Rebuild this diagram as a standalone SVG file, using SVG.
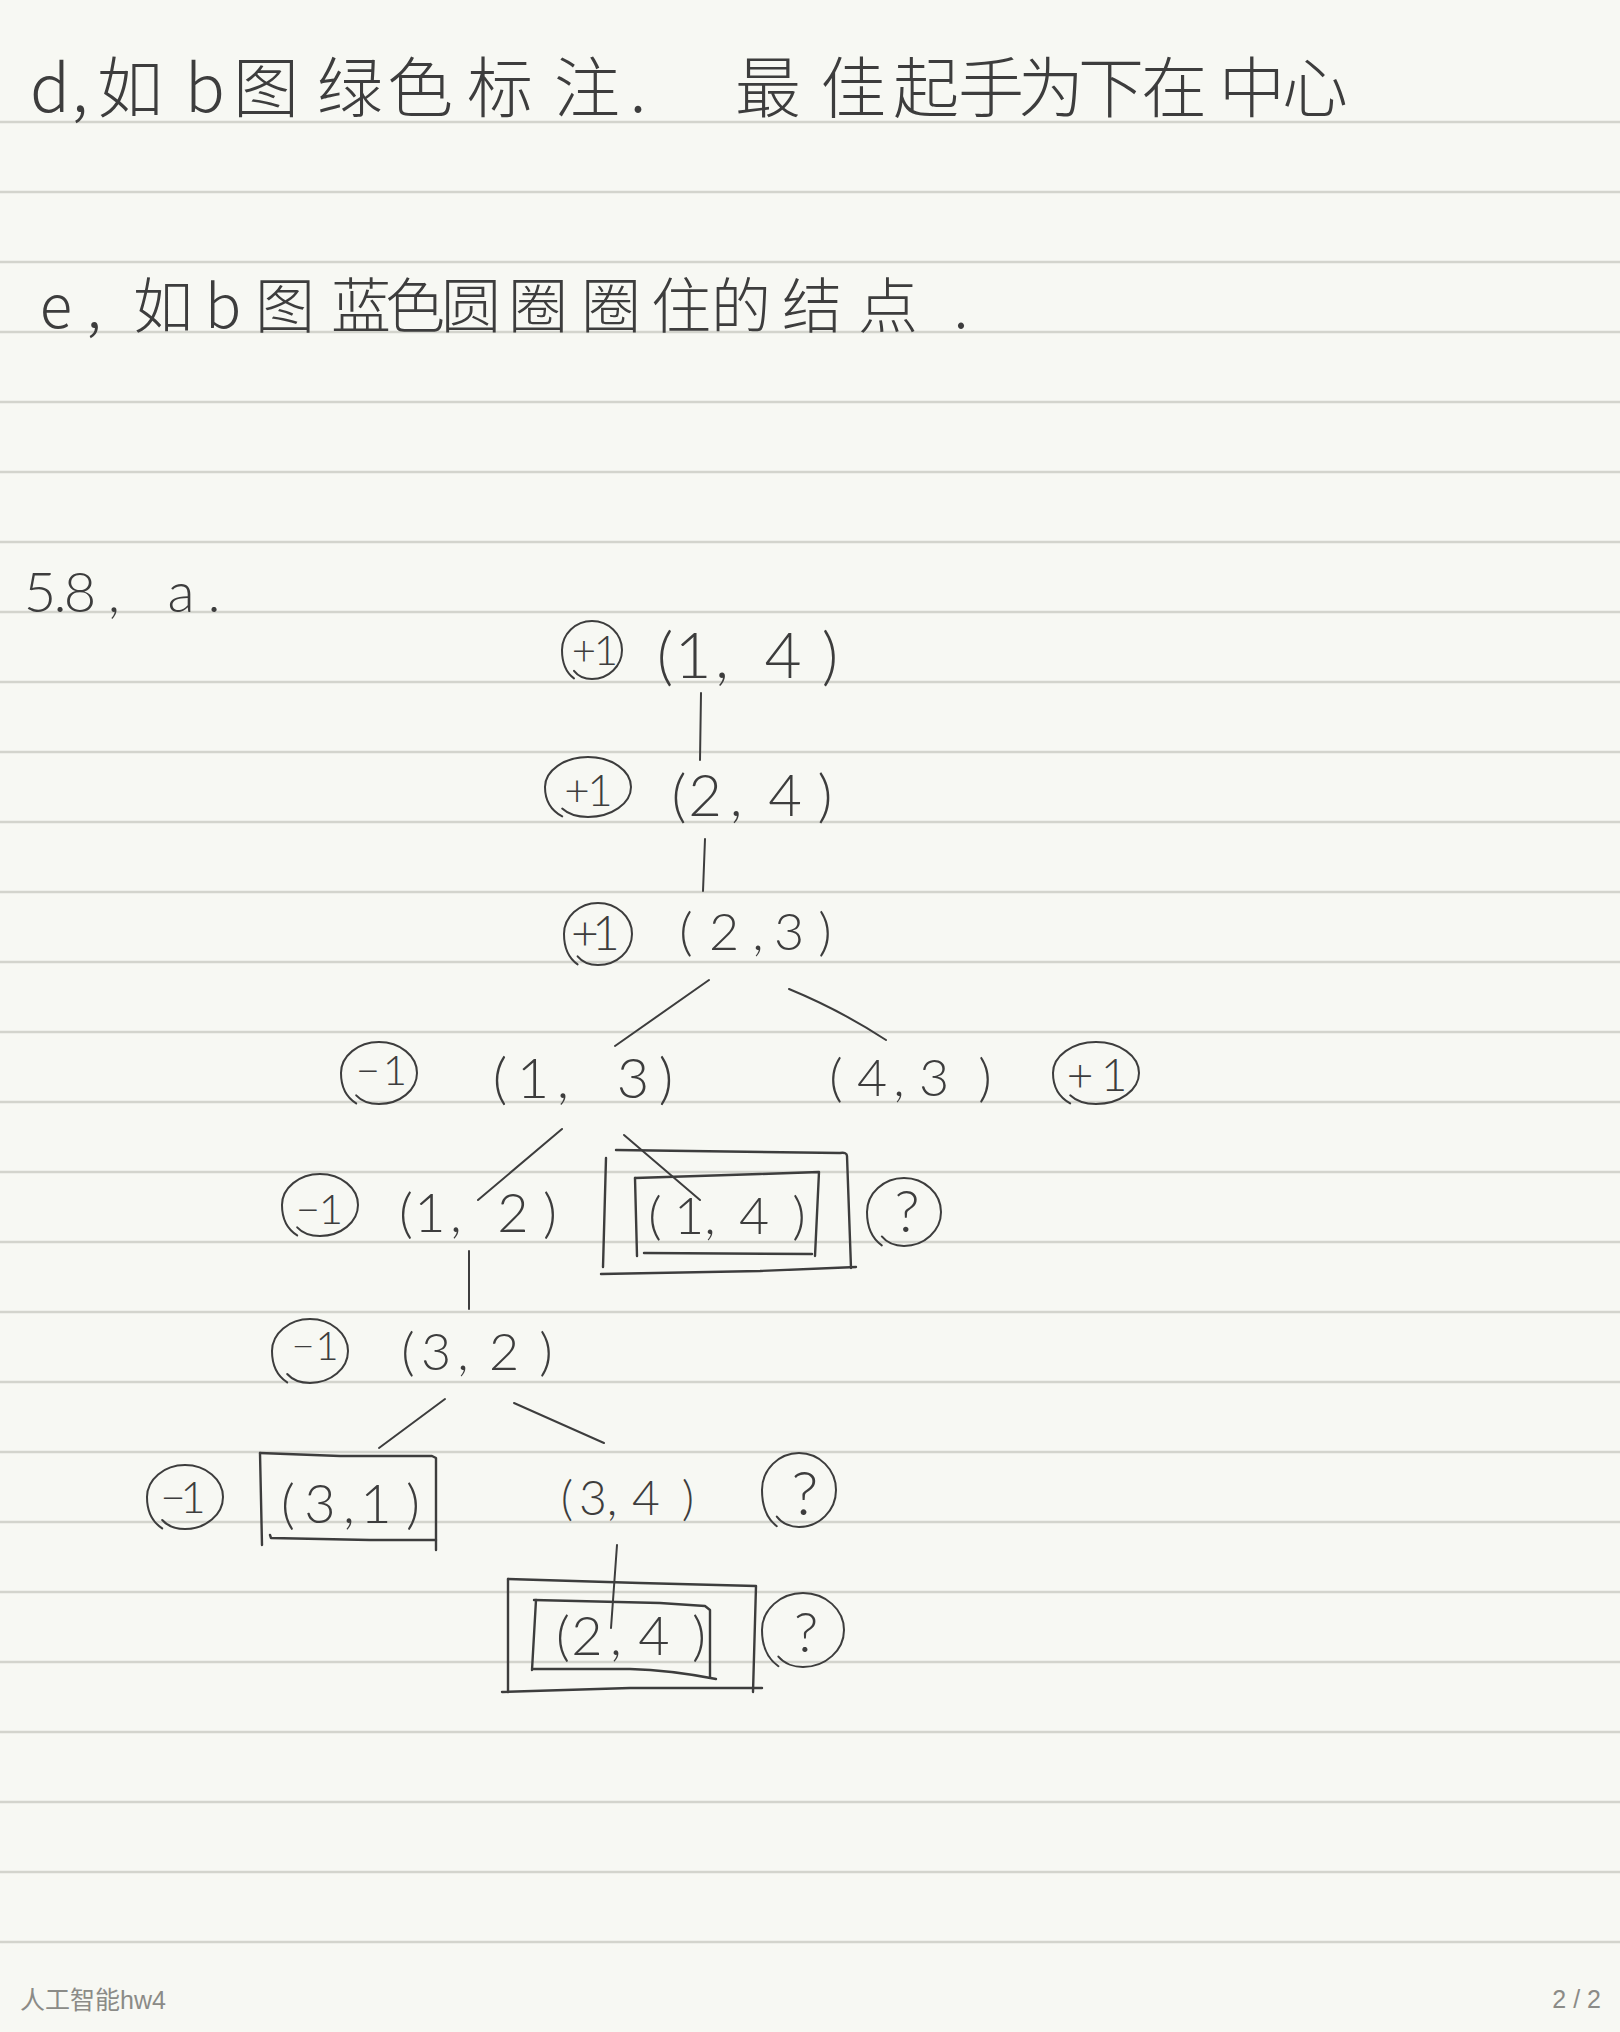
<svg xmlns="http://www.w3.org/2000/svg" width="1620" height="2032" viewBox="0 0 1620 2032">
<style>
.bg{fill:#f7f8f3}
.rule{stroke:#d3d4cd;stroke-width:2.4;fill:none}
.ink{stroke:#3d3d3d;stroke-width:2;fill:none;stroke-linecap:round;stroke-linejoin:round}
.box{stroke:#3d3d3d;stroke-width:2.4;fill:none;stroke-linecap:round;stroke-linejoin:round}
.loop{stroke:#3d3d3d;stroke-width:2;fill:none;stroke-linecap:round;vector-effect:non-scaling-stroke}
.hand{font-family:"Noto Sans CJK SC","Noto Sans",sans-serif;font-weight:300;fill:#3d3d3d;text-anchor:middle}
.num{font-family:"Lato","Noto Sans",sans-serif;font-weight:300;fill:#3d3d3d;text-anchor:middle}
.foot{font-family:"Liberation Sans","Noto Sans CJK SC",sans-serif;font-size:25px;fill:#8b8b87}
</style>
<defs>
<path id="loop" class="loop" d="M-.6 .98C-.9 .75-1 .35-1 0C-1-.55-.55-1 0-1C.55-1 1-.55 1 0C1 .55 .55 1 0 1C-.2 1-.45 .92-.6 .72"/>
</defs>
<rect class="bg" width="1620" height="2032"/>
<g id="rules">
<path class="rule" d="M0 122H1620M0 192H1620M0 262H1620M0 332H1620M0 402H1620M0 472H1620M0 542H1620M0 612H1620M0 682H1620M0 752H1620M0 822H1620M0 892H1620M0 962H1620M0 1032H1620M0 1102H1620M0 1172H1620M0 1242H1620M0 1312H1620M0 1382H1620M0 1452H1620M0 1522H1620M0 1592H1620M0 1662H1620M0 1732H1620M0 1802H1620M0 1872H1620M0 1942H1620"/>
</g>
<g id="notes">
<text class="hand" font-size="66" y="112" x="50 80 130 205 266 350 420 500 587 638 768 853 926 991 1051 1111 1174 1252 1315">d,如b图绿色标注.最佳起手为下在中心</text>
<text class="hand" font-size="60" y="328" x="56 94 163 223 285 361 415 471 538 611 681 741 812 888 961">e,如b图蓝色圆圈圈住的结点.</text>
<text class="num" font-size="56" y="612" x="40 60 80 114 181 214">5.8,a.</text>
</g>
<g id="connectors">
<path class="ink" d="M701 693L700 760"/>
<path class="ink" d="M705 839L703 891"/>
<path class="ink" d="M709 980L615 1046"/>
<path class="ink" d="M789 989Q840 1010 886 1040"/>
<path class="ink" d="M562 1129L478 1200"/>
<path class="ink" d="M624 1135L700 1200"/>
<path class="ink" d="M469 1251L469 1309"/>
<path class="ink" d="M445 1399L379 1448"/>
<path class="ink" d="M514 1403L604 1443"/>
<path class="ink" d="M617 1545L611 1628"/>
</g>
<g id="node-1-4-top">
<use href="#loop" transform="translate(592 650) scale(30 29)"/>
<text class="num" font-size="42" y="665" x="584 606">+1</text>
<text class="num" font-size="64" y="678" x="665 693 722 783 830">(1,4)</text>
</g>
<g id="node-2-4">
<use href="#loop" transform="translate(588 787) scale(43 30)"/>
<text class="num" font-size="44" y="806" x="577 600">+1</text>
<text class="num" font-size="58" y="816" x="679 705 736 785 825">(2,4)</text>
</g>
<g id="node-2-3">
<use href="#loop" transform="translate(598 934) scale(34 31)"/>
<text class="num" font-size="48" y="950" x="585 606">+1</text>
<text class="num" font-size="52" y="950" x="686 724 758 789 825">(2,3)</text>
</g>
<g id="node-1-3">
<use href="#loop" transform="translate(379 1073) scale(38 31)"/>
<text class="num" font-size="42" y="1085" x="368 395">−1</text>
<text class="num" font-size="56" y="1098" x="500 533 563 633 666">(1,3)</text>
</g>
<g id="node-4-3">
<text class="num" font-size="52" y="1096" x="836 872 899 934 985">(4,3)</text>
<use href="#loop" transform="translate(1096 1073) scale(43 31)"/>
<text class="num" font-size="46" y="1091" x="1080 1114">+1</text>
</g>
<g id="node-1-2">
<use href="#loop" transform="translate(320 1205) scale(38 31)"/>
<text class="num" font-size="42" y="1224" x="308 331">−1</text>
<text class="num" font-size="54" y="1232" x="406 430 456 513 550">(1,2)</text>
</g>
<g id="node-1-4-boxed">
<path class="box" d="M616 1150L840 1153Q847 1152 847 1156L851 1268"/>
<path class="box" d="M606 1158L603 1267"/>
<path class="box" d="M601 1274L760 1271L856 1267"/>
<path class="box" d="M635 1178L760 1174L819 1172L815 1256"/>
<path class="box" d="M635 1178L637 1256"/>
<path class="box" d="M644 1253L812 1254"/>
<text class="num" font-size="52" y="1234" x="655 689 710 754 799">(1,4)</text>
<use href="#loop" transform="translate(904 1212) scale(37 34)"/>
<text class="num" font-size="58" y="1232" x="907">?</text>
</g>
<g id="node-3-2">
<use href="#loop" transform="translate(310 1351) scale(38 32)"/>
<text class="num" font-size="40" y="1360" x="303 327">−1</text>
<text class="num" font-size="52" y="1370" x="408 436 463 504 546">(3,2)</text>
</g>
<g id="node-3-1">
<use href="#loop" transform="translate(185 1497) scale(38 32)"/>
<text class="num" font-size="44" y="1513" x="173 193">−1</text>
<path class="box" d="M260 1453L340 1456L432 1456L436 1458L436 1550"/>
<path class="box" d="M260 1453L262 1545"/>
<path class="box" d="M270 1535L271 1538L370 1540L436 1540"/>
<text class="num" font-size="54" y="1523" x="288 320 349 376 413">(3,1)</text>
</g>
<g id="node-3-4">
<text class="num" font-size="48" y="1515" x="567 593 612 646 688">(3,4)</text>
<use href="#loop" transform="translate(799 1490) scale(37 37)"/>
<text class="num" font-size="62" y="1515" x="805">?</text>
</g>
<g id="node-2-4-boxed">
<path class="box" d="M508 1579L640 1583L756 1586L753 1692"/>
<path class="box" d="M508 1579L508 1692"/>
<path class="box" d="M502 1692L630 1688L762 1688"/>
<path class="box" d="M534 1600L660 1603L705 1606L710 1610L710 1677"/>
<path class="box" d="M536 1600L532 1670"/>
<path class="box" d="M533 1669L630 1669Q670 1670 716 1679"/>
<text class="num" font-size="54" y="1655" x="563 587 616 654 699">(2,4)</text>
<use href="#loop" transform="translate(803 1630) scale(41 37)"/>
<text class="num" font-size="56" y="1652" x="806">?</text>
</g>
<g id="footer">
<text class="foot" x="20" y="2009">人工智能hw4</text>
<text class="foot" x="1601" y="2008" text-anchor="end">2 / 2</text>
</g>
</svg>
